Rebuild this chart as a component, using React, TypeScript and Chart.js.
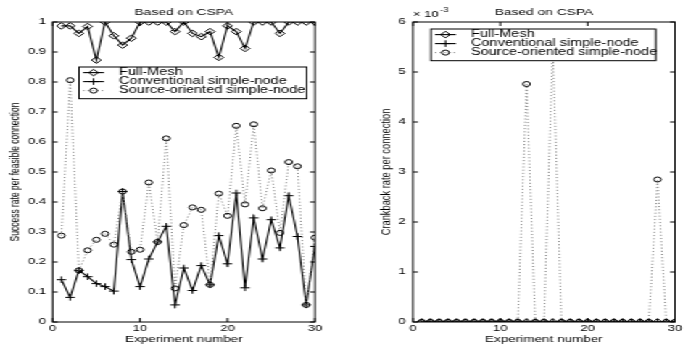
import React, { useEffect, useRef } from 'react';
import { Chart, registerables } from 'chart.js';

Chart.register(...registerables);

// ---------- data ----------
const experiments = [1, 2, 3, 4, 5, 6, 7, 8, 9, 10, 11, 12, 13, 14, 15, 16, 17, 18, 19, 20, 21, 22, 23, 24, 25, 26, 27, 28, 29, 30];

const fullMeshSuccess = [0.987, 0.987, 0.962, 0.985, 0.873, 1.0, 0.954, 0.923, 0.946, 1.0, 1.0, 1.0, 1.0, 0.968, 1.0, 0.962, 0.951, 0.968, 0.882, 0.987, 0.968, 0.912, 1.0, 1.0, 1.0, 0.962, 1.0, 1.0, 1.0, 1.0];
const conventionalSuccess = [0.141, 0.082, 0.172, 0.151, 0.128, 0.118, 0.103, 0.435, 0.208, 0.118, 0.21, 0.267, 0.319, 0.057, 0.18, 0.105, 0.188, 0.124, 0.288, 0.194, 0.43, 0.114, 0.347, 0.21, 0.341, 0.247, 0.421, 0.285, 0.057, 0.252];
const sourceSuccess = [0.288, 0.806, 0.172, 0.239, 0.274, 0.294, 0.258, 0.435, 0.234, 0.241, 0.465, 0.267, 0.612, 0.112, 0.323, 0.382, 0.374, 0.124, 0.428, 0.354, 0.654, 0.392, 0.659, 0.379, 0.505, 0.297, 0.533, 0.519, 0.057, 0.281];

const fullMeshCrankback = [0, 0, 0, 0, 0, 0, 0, 0, 0, 0, 0, 0, 0, 0, 0, 0, 0, 0, 0, 0, 0, 0, 0, 0, 0, 0, 0, 0, 0, 0];
const conventionalCrankback = [0, 0, 0, 0, 0, 0, 0, 0, 0, 0, 0, 0, 0, 0, 0, 0, 0, 0, 0, 0, 0, 0, 0, 0, 0, 0, 0, 0, 0, 0];
const sourceCrankback = [0, 0, 0, 0, 0, 0, 0, 0, 0, 0, 0, 0, 0.00476, 0, 0, 0.0055, 0, 0, 0, 0, 0, 0, 0, 0, 0, 0, 0, 0.00285, 0, 0];

const seriesNames = ['Full-Mesh', 'Conventional simple-node', 'Source-oriented simple-node'];

const xTickValues = [0, 10, 20, 30];
const xTickLabels = ['0', '10', '20', '30'];
const leftYTickValues = [0, 0.1, 0.2, 0.3, 0.4, 0.5, 0.6, 0.7, 0.8, 0.9, 1];
const leftYTickLabels = ['0', '0.1', '0.2', '0.3', '0.4', '0.5', '0.6', '0.7', '0.8', '0.9', '1'];
const rightYTickValues = [0, 0.001, 0.002, 0.003, 0.004, 0.005, 0.006];
const rightYTickLabels = ['0', '1', '2', '3', '4', '5', '6'];

const plotTitle = 'Based on CSPA';
const xTitle = 'Experiment number';
const leftYTitle = 'Success rate per feasible connection';
const rightYTitle = 'Crankback rate per connection';
const rightExponent = '-3';

// ---------- styling ----------
const SX = 1.45; // horizontal stretch of the original figure
const FONT = '"Liberation Sans", Arial, Helvetica, sans-serif';

function drawMarker(ctx: CanvasRenderingContext2D, style: string, x: number, y: number, r: number) {
  ctx.beginPath();
  if (style === 'rectRot') {
    ctx.moveTo(x, y - r);
    ctx.lineTo(x + r, y);
    ctx.lineTo(x, y + r);
    ctx.lineTo(x - r, y);
    ctx.closePath();
  } else if (style === 'cross') {
    ctx.moveTo(x - r, y);
    ctx.lineTo(x + r, y);
    ctx.moveTo(x, y - r);
    ctx.lineTo(x, y + r);
  } else {
    ctx.arc(x, y, r, 0, Math.PI * 2);
  }
  ctx.stroke();
}

const matlabAxes = {
  id: 'matlabAxes',
  afterDraw(chart: any, _args: any, o: any) {
    const { ctx, chartArea: a, scales } = chart;
    const xs = scales.x;
    const ys = scales.y;
    ctx.save();
    ctx.strokeStyle = '#000';
    ctx.fillStyle = '#000';
    ctx.lineWidth = 1;
    ctx.setLineDash([]);
    // frame
    ctx.strokeRect(a.left, a.top, a.right - a.left, a.bottom - a.top);
    // x ticks
    ctx.font = `9px ${FONT}`;
    ctx.textAlign = 'center';
    ctx.textBaseline = 'middle';
    o.xTicks.forEach((v: number, i: number) => {
      const px = xs.getPixelForValue(v);
      ctx.beginPath();
      ctx.moveTo(px, a.bottom);
      ctx.lineTo(px, a.bottom - 4);
      ctx.moveTo(px, a.top);
      ctx.lineTo(px, a.top + 4);
      ctx.stroke();
      ctx.fillText(o.xLabels[i], px, a.bottom + 6.5);
    });
    // y ticks
    ctx.textAlign = 'right';
    o.yTicks.forEach((v: number, i: number) => {
      const py = ys.getPixelForValue(v);
      ctx.beginPath();
      ctx.moveTo(a.left, py);
      ctx.lineTo(a.left + 3.4, py);
      ctx.moveTo(a.right, py);
      ctx.lineTo(a.right - 3.4, py);
      ctx.stroke();
      ctx.fillText(o.yLabels[i], a.left - o.yLabelGap, py);
    });
    // titles
    const cx = (a.left + a.right) / 2;
    ctx.textAlign = 'center';
    ctx.font = `9.5px ${FONT}`;
    ctx.fillText(o.title, cx, 12);
    ctx.font = `9.3px ${FONT}`;
    ctx.fillText(o.xTitle, cx, a.bottom + 17);
    ctx.save();
    ctx.translate(o.yTitleX, (a.top + a.bottom) / 2);
    ctx.rotate(-Math.PI / 2);
    ctx.font = `${o.yTitleSize}px ${FONT}`;
    ctx.fillText(o.yTitle, 0, 0);
    ctx.restore();
    // exponent
    if (o.exponent) {
      ctx.textAlign = 'left';
      ctx.font = `9px ${FONT}`;
      ctx.fillText('\u00d7 10', a.left, 15);
      const w = ctx.measureText('\u00d7 10').width;
      ctx.font = `6.5px ${FONT}`;
      ctx.fillText(o.exponent, a.left + w + 1, 10);
    }
    // legend
    const L = o.legend;
    ctx.fillStyle = '#fff';
    ctx.fillRect(L.x, L.y, L.w, L.h);
    ctx.strokeStyle = '#000';
    ctx.strokeRect(L.x, L.y, L.w, L.h);
    const rows = [5.6, 14.6, 23.6];
    chart.data.datasets.forEach((ds: any, i: number) => {
      const ry = L.y + rows[i];
      ctx.save();
      ctx.strokeStyle = ds.borderColor;
      ctx.lineWidth = ds.borderWidth;
      ctx.setLineDash(ds.borderDash || []);
      ctx.beginPath();
      ctx.moveTo(L.x + 2.8, ry);
      ctx.lineTo(L.x + 17.2, ry);
      ctx.stroke();
      ctx.setLineDash([]);
      ctx.strokeStyle = '#000';
      ctx.lineWidth = 1;
      drawMarker(ctx, ds.pointStyle, L.x + 10, ry, ds.pointRadius);
      ctx.restore();
      ctx.fillStyle = '#000';
      ctx.font = `10px ${FONT}`;
      ctx.textAlign = 'left';
      ctx.textBaseline = 'middle';
      ctx.fillText(ds.label, L.x + 27.6, ry);
    });
    ctx.restore();
  },
};

function makeDatasets(a: number[], b: number[], c: number[]) {
  const pts = (arr: number[]) => experiments.map((x, i) => ({ x, y: arr[i] }));
  const common = {
    pointBorderColor: '#000',
    pointBackgroundColor: 'rgba(0,0,0,0)',
    pointBorderWidth: 1,
    tension: 0,
    fill: false,
  };
  return [
    { ...common, label: seriesNames[0], data: pts(a), borderColor: '#000', borderWidth: 1.1, pointStyle: 'rectRot', pointRadius: 3.3, order: 3 },
    { ...common, label: seriesNames[1], data: pts(b), borderColor: '#000', borderWidth: 1.1, pointStyle: 'cross', pointRadius: 3.3, order: 2 },
    { ...common, label: seriesNames[2], data: pts(c), borderColor: '#777', borderWidth: 1, borderDash: [1, 2.2], pointStyle: 'circle', pointRadius: 2.5, order: 1 },
  ];
}

function Panel(props: any) {
  const ref = useRef<HTMLCanvasElement | null>(null);
  useEffect(() => {
    if (!ref.current) return;
    const chart = new Chart(ref.current, {
      type: 'line',
      data: { datasets: makeDatasets(props.a, props.b, props.c) as any },
      options: {
        animation: false,
        responsive: true,
        maintainAspectRatio: false,
        events: [],
        layout: { padding: props.padding },
        plugins: {
          legend: { display: false },
          tooltip: { enabled: false },
          title: { display: false },
          matlabAxes: props.axes,
        } as any,
        scales: {
          x: { type: 'linear', min: 0, max: 30, display: false },
          y: { type: 'linear', min: 0, max: props.yMax, display: false },
        },
      },
      plugins: [matlabAxes as any],
    });
    return () => chart.destroy();
  }, []);
  return (
    <div style={{ position: 'relative', width: props.width, height: 345 }}>
      <canvas ref={ref} />
    </div>
  );
}

export default function App() {
  return (
    <div
      style={{
        position: 'fixed',
        left: 0,
        top: 0,
        width: 482,
        height: 345,
        display: 'flex',
        transform: `scaleX(${SX})`,
        transformOrigin: '0 0',
        background: '#fff',
      }}
    >
      <Panel
        width={240}
        a={fullMeshSuccess}
        b={conventionalSuccess}
        c={sourceSuccess}
        yMax={1}
        padding={{ left: 36.3, right: 22.8, top: 22, bottom: 23 }}
        axes={{
          xTicks: xTickValues,
          xLabels: xTickLabels,
          yTicks: leftYTickValues,
          yLabels: leftYTickLabels,
          yLabelGap: 4.5,
          title: plotTitle,
          xTitle: xTitle,
          yTitle: leftYTitle,
          yTitleX: 10.3,
          yTitleSize: 8.5,
          legend: { x: 54.5, y: 67, w: 157, h: 31.7 },
        }}
      />
      <Panel
        width={242}
        a={fullMeshCrankback}
        b={conventionalCrankback}
        c={sourceCrankback}
        yMax={0.006}
        padding={{ left: 44.8, right: 16.5, top: 22, bottom: 23 }}
        axes={{
          xTicks: xTickValues,
          xLabels: xTickLabels,
          yTicks: rightYTickValues,
          yLabels: rightYTickLabels,
          yLabelGap: 5,
          title: plotTitle,
          xTitle: xTitle,
          yTitle: rightYTitle,
          yTitleX: 26.7,
          yTitleSize: 9.3,
          exponent: rightExponent,
          legend: { x: 57.2, y: 29, w: 155, h: 31.7 },
        }}
      />
    </div>
  );
}
